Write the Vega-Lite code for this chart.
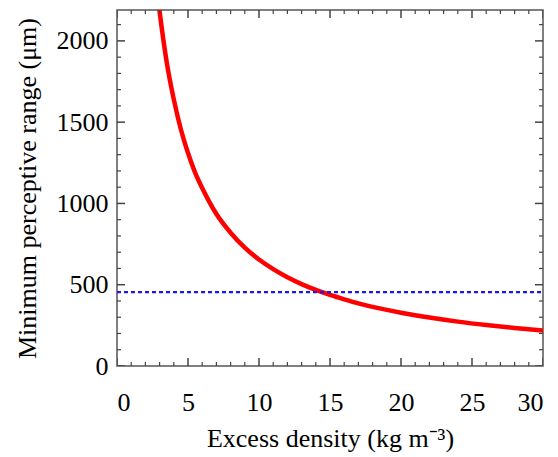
{
  "$schema": "https://vega.github.io/schema/vega-lite/v6.json",
  "width": 426,
  "height": 356,
  "autosize": "none",
  "padding": {"left": 117, "top": 10, "right": 15, "bottom": 91},
  "background": "white",
  "config": {
    "view": {"stroke": "#555555", "strokeWidth": 1.5},
    "font": "Liberation Serif",
    "axis": {
      "grid": false,
      "domain": false,
      "ticks": false,
      "tickSize": 0,
      "labelFont": "Liberation Serif",
      "labelFontSize": 26,
      "labelColor": "black",
      "titleFont": "Liberation Serif",
      "titleFontSize": 26,
      "titleFontWeight": "normal",
      "titleColor": "black"
    }
  },
  "datasets": {
    "curve": [
      {"density": 2.9, "range": 2250},
      {"density": 3.0, "range": 2180},
      {"density": 3.5, "range": 1870},
      {"density": 4.0, "range": 1640},
      {"density": 4.5, "range": 1455},
      {"density": 5.0, "range": 1310},
      {"density": 5.5, "range": 1190},
      {"density": 6.0, "range": 1095},
      {"density": 6.5, "range": 1010},
      {"density": 7.0, "range": 935},
      {"density": 8.0, "range": 820},
      {"density": 9.0, "range": 728},
      {"density": 10.0, "range": 655},
      {"density": 11.0, "range": 596},
      {"density": 12.0, "range": 546},
      {"density": 13.0, "range": 504},
      {"density": 14.0, "range": 468},
      {"density": 15.0, "range": 437},
      {"density": 16.0, "range": 410},
      {"density": 17.0, "range": 385},
      {"density": 18.0, "range": 364},
      {"density": 19.0, "range": 345},
      {"density": 20.0, "range": 328},
      {"density": 22.0, "range": 298},
      {"density": 24.0, "range": 273},
      {"density": 26.0, "range": 252},
      {"density": 28.0, "range": 234},
      {"density": 30.0, "range": 218}
    ],
    "threshold": [
      {"start": 0, "end": 30, "range": 455}
    ],
    "xMajor": [{"v": 0}, {"v": 5}, {"v": 10}, {"v": 15}, {"v": 20}, {"v": 25}, {"v": 30}],
    "xMinor": [{"v": 1}, {"v": 2}, {"v": 3}, {"v": 4}, {"v": 6}, {"v": 7}, {"v": 8}, {"v": 9},
               {"v": 11}, {"v": 12}, {"v": 13}, {"v": 14}, {"v": 16}, {"v": 17}, {"v": 18}, {"v": 19},
               {"v": 21}, {"v": 22}, {"v": 23}, {"v": 24}, {"v": 26}, {"v": 27}, {"v": 28}, {"v": 29}],
    "yMajor": [{"v": 0}, {"v": 500}, {"v": 1000}, {"v": 1500}, {"v": 2000}],
    "yMinor": [{"v": 100}, {"v": 200}, {"v": 300}, {"v": 400}, {"v": 600}, {"v": 700}, {"v": 800}, {"v": 900},
               {"v": 1100}, {"v": 1200}, {"v": 1300}, {"v": 1400}, {"v": 1600}, {"v": 1700}, {"v": 1800}, {"v": 1900}, {"v": 2100}]
  },
  "layer": [
    {
      "data": {"name": "curve"},
      "mark": {"type": "line", "color": "#ff0000", "strokeWidth": 4.5, "clip": true, "interpolate": "monotone"},
      "encoding": {
        "x": {"field": "density", "type": "quantitative",
              "scale": {"domain": [0, 30], "nice": false},
              "axis": {"orient": "bottom", "values": [0, 5, 10, 15, 20, 25, 30], "format": "d",
                       "labelPadding": 23,
                       "title": "Excess density (kg m⁻³)", "titlePadding": 10}},
        "y": {"field": "range", "type": "quantitative",
              "scale": {"domain": [0, 2190], "nice": false, "zero": false},
              "axis": {"orient": "left", "values": [0, 500, 1000, 1500, 2000], "format": "d",
                       "labelPadding": 9,
                       "title": "Minimum perceptive range (μm)", "titlePadding": 16}}
      }
    },
    {
      "data": {"name": "threshold"},
      "mark": {"type": "rule", "color": "#1a1aee", "strokeWidth": 2.2, "strokeDash": [4, 3]},
      "encoding": {
        "x": {"field": "start", "type": "quantitative"},
        "x2": {"field": "end"},
        "y": {"field": "range", "type": "quantitative"}
      }
    },
    {
      "data": {"name": "xMajor"},
      "mark": {"type": "tick", "orient": "vertical", "size": 16, "thickness": 1.5, "color": "#444444", "opacity": 1, "clip": true},
      "encoding": {"x": {"field": "v", "type": "quantitative"}, "y": {"datum": 0}}
    },
    {
      "data": {"name": "xMajor"},
      "mark": {"type": "tick", "orient": "vertical", "size": 16, "thickness": 1.5, "color": "#444444", "opacity": 1, "clip": true},
      "encoding": {"x": {"field": "v", "type": "quantitative"}, "y": {"datum": 2190}}
    },
    {
      "data": {"name": "xMinor"},
      "mark": {"type": "tick", "orient": "vertical", "size": 8, "thickness": 1.2, "color": "#444444", "opacity": 1, "clip": true},
      "encoding": {"x": {"field": "v", "type": "quantitative"}, "y": {"datum": 0}}
    },
    {
      "data": {"name": "xMinor"},
      "mark": {"type": "tick", "orient": "vertical", "size": 8, "thickness": 1.2, "color": "#444444", "opacity": 1, "clip": true},
      "encoding": {"x": {"field": "v", "type": "quantitative"}, "y": {"datum": 2190}}
    },
    {
      "data": {"name": "yMajor"},
      "mark": {"type": "tick", "orient": "horizontal", "size": 16, "thickness": 1.5, "color": "#444444", "opacity": 1, "clip": true},
      "encoding": {"y": {"field": "v", "type": "quantitative"}, "x": {"datum": 0}}
    },
    {
      "data": {"name": "yMajor"},
      "mark": {"type": "tick", "orient": "horizontal", "size": 16, "thickness": 1.5, "color": "#444444", "opacity": 1, "clip": true},
      "encoding": {"y": {"field": "v", "type": "quantitative"}, "x": {"datum": 30}}
    },
    {
      "data": {"name": "yMinor"},
      "mark": {"type": "tick", "orient": "horizontal", "size": 8, "thickness": 1.2, "color": "#444444", "opacity": 1, "clip": true},
      "encoding": {"y": {"field": "v", "type": "quantitative"}, "x": {"datum": 0}}
    },
    {
      "data": {"name": "yMinor"},
      "mark": {"type": "tick", "orient": "horizontal", "size": 8, "thickness": 1.2, "color": "#444444", "opacity": 1, "clip": true},
      "encoding": {"y": {"field": "v", "type": "quantitative"}, "x": {"datum": 30}}
    }
  ]
}
